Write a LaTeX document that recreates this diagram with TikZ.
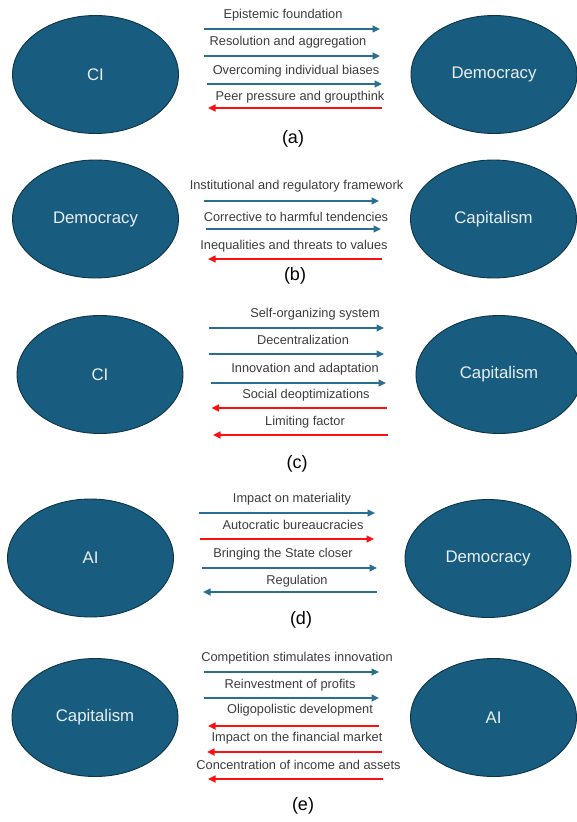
\documentclass[tikz,border=0pt]{standalone}
\usepackage{fontspec}
\setmainfont{Liberation Sans}
\usetikzlibrary{arrows.meta,shapes.geometric}
\definecolor{ellfill}{HTML}{185D7F}
\definecolor{elledge}{HTML}{0E3447}
\definecolor{arrblue}{HTML}{2A6E93}
\definecolor{arrred}{HTML}{FF1010}
\definecolor{lbltext}{HTML}{3C3C3C}
\definecolor{elltext}{HTML}{E8EEF2}
\tikzset{
  ell/.style={ellipse, draw=elledge, line width=0.9pt, fill=ellfill,
    minimum width=166pt, minimum height=118pt, inner sep=0pt,
    text=elltext, font=\fontsize{16.8}{18}\selectfont},
  lbl/.style={inner sep=0pt, text=lbltext, font=\fontsize{12.8}{14}\selectfont},
  subcap/.style={inner sep=0pt, text=black, font=\fontsize{18}{20}\selectfont},
  barr/.style={draw=arrblue, line width=1.6pt, -{Triangle[length=7.5pt,width=7pt]}},
  rarr/.style={draw=arrred, line width=1.6pt, -{Triangle[length=7.5pt,width=7pt]}},
}
\newcommand\myarr[8]{%
  \coordinate (#1s) at (#3,#5);
  \coordinate (#1e) at (#4,#5);
  \draw[#2] (#1s) -- (#1e);
  \node[lbl] (#1t) at (#6,#7) {#8};
}
\begin{document}
\begin{tikzpicture}[x=1pt,y=-1pt]
\useasboundingbox (0,0) rectangle (577,822);
% (a)
\node[ell] (aL) at (95.5,74.5) {CI};
\node[ell] (aR) at (494,74.5) {Democracy};
\myarr{a1}{barr}{204}{380}{29}{283}{15}{Epistemic foundation}
\myarr{a2}{barr}{204}{380}{56}{288}{42}{Resolution and aggregation}
\myarr{a3}{barr}{207}{382}{84}{296}{71}{Overcoming individual biases}
\myarr{a4}{rarr}{382}{208}{108}{300}{97}{Peer pressure and groupthink}
\node[subcap] (acap) at (293,139) {(a)};
% (b)
\node[ell] (bL) at (95.5,219) {Democracy};
\node[ell] (bR) at (493.5,219) {Capitalism};
\myarr{b1}{barr}{203.5}{379}{201}{296.5}{186}{Institutional and regulatory framework}
\myarr{b2}{barr}{206}{381}{229}{296}{217}{Corrective to harmful tendencies}
\myarr{b3}{rarr}{381.5}{208}{259}{294}{246}{Inequalities and threats to values}
\node[subcap] (bcap) at (295,276) {(b)};
% (c)
\node[ell] (cL) at (100,374.5) {CI};
\node[ell] (cR) at (499,374.5) {Capitalism};
\myarr{c1}{barr}{209}{384}{328}{315}{314}{Self-organizing system}
\myarr{c2}{barr}{209}{384}{354}{303}{340}{Decentralization}
\myarr{c3}{barr}{210.5}{386}{383}{305}{369}{Innovation and adaptation}
\myarr{c4}{rarr}{386.5}{211.5}{408}{306}{395}{Social deoptimizations}
\myarr{c5}{rarr}{387.5}{213}{435}{305}{422}{Limiting factor}
\node[subcap] (ccap) at (297,464) {(c)};
% (d)
\node[ell] (dL) at (90.5,558) {AI};
\node[ell] (dR) at (488,558.5) {Democracy};
\myarr{d1}{barr}{199}{375}{513}{292}{499}{Impact on materiality}
\myarr{d2}{rarr}{200}{374}{539}{293}{525}{Autocratic bureaucracies}
\myarr{d3}{barr}{202}{377}{568}{283}{554}{Bringing the State closer}
\myarr{d4}{barr}{377}{203}{592}{297}{581}{Regulation}
\node[subcap] (dcap) at (301,620) {(d)};
% (e)
\node[ell] (eL) at (95,717.5) {Capitalism};
\node[ell] (eR) at (493.5,717.5) {AI};
\myarr{e1}{barr}{204}{379}{672}{297}{658}{Competition stimulates innovation}
\myarr{e2}{barr}{204}{379}{698}{290}{685}{Reinvestment of profits}
\myarr{e3}{rarr}{379}{208}{726}{300}{710}{Oligopolistic development}
\myarr{e4}{rarr}{382}{207}{752}{297}{738}{Impact on the financial market}
\myarr{e5}{rarr}{383}{208}{779}{298.5}{765}{Concentration of income and assets}
\node[subcap] (ecap) at (303,806) {(e)};
\end{tikzpicture}
\end{document}
